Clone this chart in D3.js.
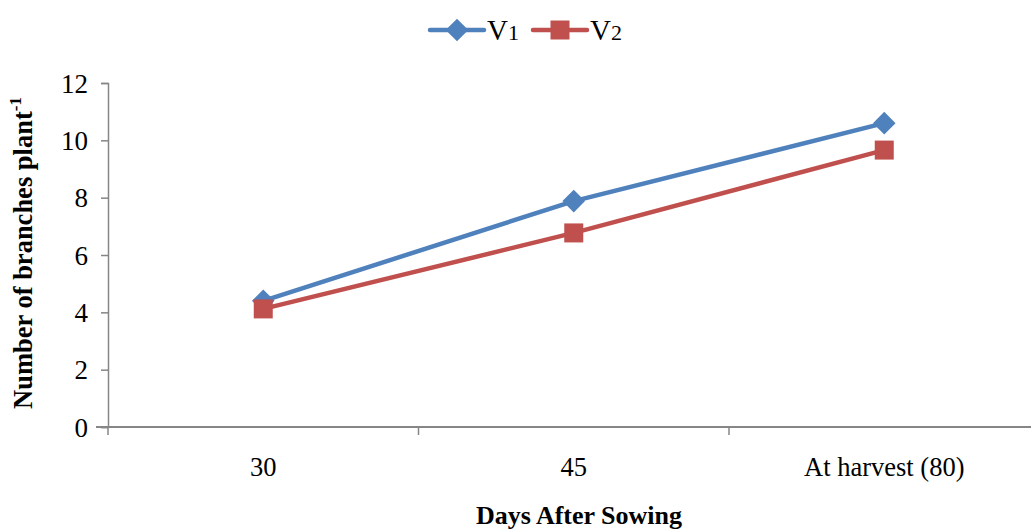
<!DOCTYPE html>
<html><head><meta charset="utf-8">
<script src="https://cdn.jsdelivr.net/npm/d3@7"></script>
<style>body{margin:0;background:#fff}svg{display:block}text{font-family:"Liberation Serif","Times New Roman",serif}</style>
</head><body>
<svg id="c" width="1031" height="532"></svg>
<script>
const categories = ["30", "45", "At harvest (80)"];
const seriesNames = ["V1", "V2"];
const v1 = [4.40, 7.88, 10.60];
const v2 = [4.12, 6.77, 9.66];
const yTicks = [0, 2, 4, 6, 8, 10, 12];
const colors = ["#4F81BD", "#C0504D"];

const svg = d3.select("#c");
const x = d3.scaleBand().domain(categories).range([108, 1039.5]);
const y = d3.scaleLinear().domain([0, 12]).range([427, 83]);
const axisColor = "#868686";

// y axis
const ya = svg.append("g").attr("transform", "translate(108,0)")
  .call(d3.axisLeft(y).tickValues(yTicks).tickSize(7).tickPadding(13));
ya.select(".domain").attr("stroke", axisColor).attr("stroke-width", 1.5);
ya.selectAll(".tick line").attr("stroke", axisColor).attr("stroke-width", 1.5);
ya.selectAll(".tick text").attr("font-size", 27).attr("fill", "#000").attr("dy", "0.34em");

// x axis
const xa = svg.append("g").attr("transform", "translate(0,427)")
  .call(d3.axisBottom(x).tickSize(0).tickPadding(30));
xa.select(".domain").attr("stroke", axisColor).attr("stroke-width", 2).attr("d", "M96,0H1031");
xa.selectAll(".tick text").attr("font-size", 26.5).attr("fill", "#000");
const bounds = x.domain().map(d => x(d)).concat([x.range()[1]]);
svg.append("g").selectAll("line").data(bounds).join("line")
  .attr("x1", d => d).attr("x2", d => d).attr("y1", 427).attr("y2", 435)
  .attr("stroke", axisColor).attr("stroke-width", 1.5);

// lines
const cx = d => x(d) + x.bandwidth() / 2;
const line = d3.line().x(d => cx(d.c)).y(d => y(d.v));
const data = [v1, v2].map((arr, i) => arr.map((v, j) => ({c: categories[j], v})));
data.forEach((s, i) => {
  svg.append("path").datum(s).attr("d", line).attr("fill", "none")
    .attr("stroke", colors[i]).attr("stroke-width", 4.5).attr("stroke-linejoin", "round");
});
function marker(g, i, px, py) {
  if (i === 0) {
    g.append("rect").attr("x", px - 8).attr("y", py - 8).attr("width", 16).attr("height", 16)
      .attr("transform", `rotate(45,${px},${py})`).attr("fill", colors[0]);
  } else {
    g.append("rect").attr("x", px - 9.5).attr("y", py - 9.5).attr("width", 19).attr("height", 19)
      .attr("fill", colors[1]);
  }
}
data.forEach((s, i) => {
  const g = svg.append("g");
  s.forEach(d => marker(g, i, cx(d.c), y(d.v)));
});

// legend
const legendX = [430, 533];
seriesNames.forEach((n, i) => {
  const lx = legendX[i], ly = 30;
  const g = svg.append("g");
  g.append("line").attr("x1", lx).attr("x2", lx + 54).attr("y1", ly).attr("y2", ly)
    .attr("stroke", colors[i]).attr("stroke-width", 4.5).attr("stroke-linecap", "round");
  marker(g, i, lx + 27, ly);
  const t = g.append("text").attr("x", lx + 57).attr("y", ly + 10).attr("font-size", 29).attr("fill", "#000");
  t.append("tspan").text(n[0]);
  t.append("tspan").attr("font-size", 22).text(n.slice(1));
});

// axis titles
svg.append("text").attr("x", 579).attr("y", 524).attr("text-anchor", "middle")
  .attr("font-size", 26).attr("font-weight", "bold").text("Days After Sowing");
const yt = svg.append("text").attr("transform", "translate(32,253) rotate(-90)")
  .attr("text-anchor", "middle").attr("font-size", 26.5).attr("font-weight", "bold");
yt.append("tspan").text("Number of branches plant");
yt.append("tspan").attr("font-size", 17).attr("dy", -11).text("-1");
</script>
</body></html>
